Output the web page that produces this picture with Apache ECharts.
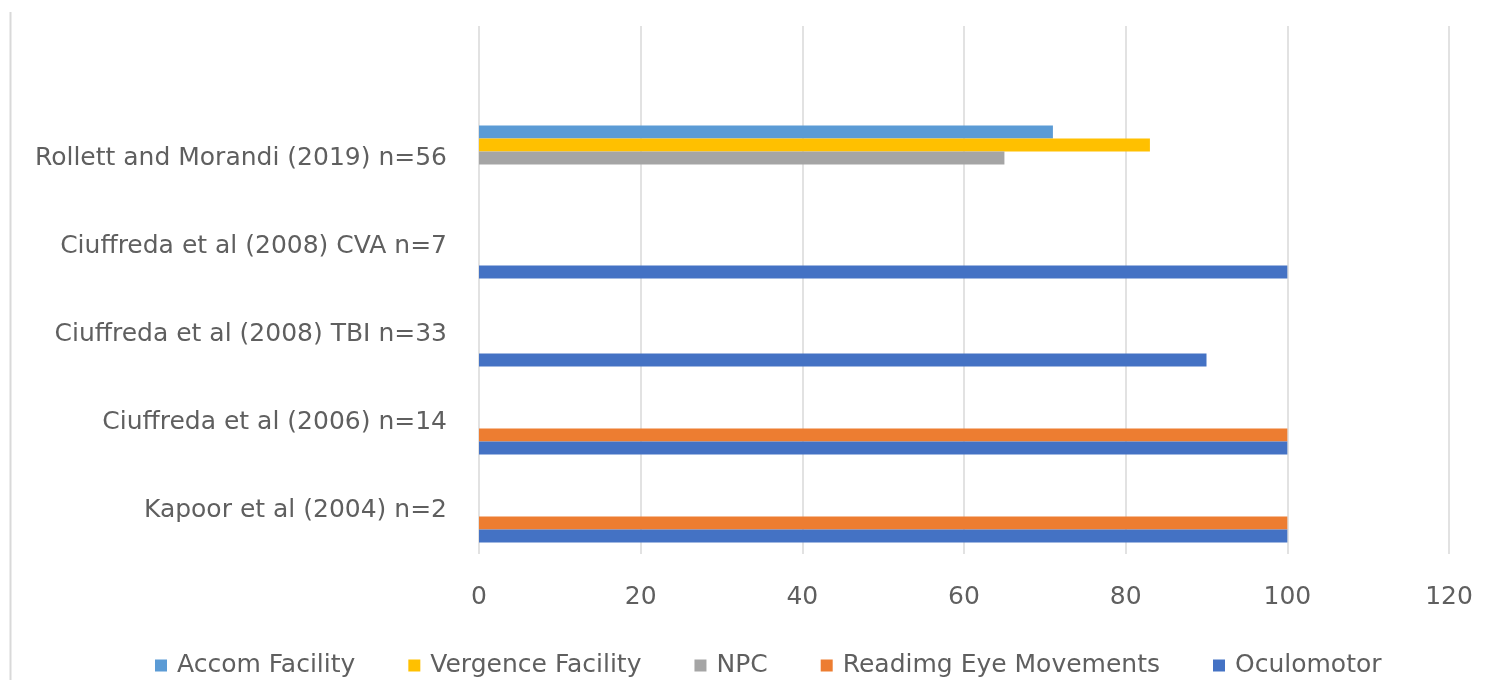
<!DOCTYPE html>
<html>
<head>
<meta charset="utf-8">
<script src="https://cdn.jsdelivr.net/npm/echarts@6/dist/echarts.min.js"></script>
<style>
  html, body { margin: 0; padding: 0; background: #ffffff; }
  #chart { width: 1492px; height: 680px; }
</style>
</head>
<body>
<div id="chart"></div>
<script>
// Studies, bottom to top; the top slot is left empty
const studies = [
  'Kapoor et al (2004) n=2',
  'Ciuffreda et al (2006) n=14',
  'Ciuffreda et al (2008) TBI n=33',
  'Ciuffreda et al (2008) CVA n=7',
  'Rollett and Morandi (2019) n=56',
  ''
];

// Percentage per study for each outcome measure (null = not reported)
const accomFac        = [null, null, null, null, 71, null];
const vergenceFac     = [null, null, null, null, 83, null];
const npc             = [null, null, null, null, 65, null];
const readingEyeMoves = [100, 100, null, null, null, null];
const oculomotor      = [100, 100, 90, 100, null, null];

const xTicks = { min: 0, max: 120, interval: 20 };

// Listed top-to-bottom within each study group
const seriesDefs = [
  { name: 'Accom Facility', data: accomFac, color: '#5B9BD5' },
  { name: 'Vergence Facility', data: vergenceFac, color: '#FFC000' },
  { name: 'NPC', data: npc, color: '#A5A5A5' },
  { name: 'Readimg Eye Movements', data: readingEyeMoves, color: '#ED7D31' },
  { name: 'Oculomotor', data: oculomotor, color: '#4472C4' }
];

const FONT = 'DejaVu Sans';
const TEXT = '#5f5f5f';
const chart = echarts.init(document.getElementById('chart'));
chart.setOption({
  animation: false,
  backgroundColor: '#ffffff',
  textStyle: { fontFamily: FONT },
  grid: { left: 479, right: 43, top: 26, height: 528, containLabel: false },
  xAxis: {
    type: 'value',
    min: xTicks.min, max: xTicks.max, interval: xTicks.interval,
    axisLine: { show: false },
    axisTick: { show: false },
    axisLabel: { color: TEXT, fontSize: 25, fontFamily: FONT, margin: 31 },
    splitLine: { lineStyle: { color: '#D9D9D9', width: 1.5 } }
  },
  yAxis: {
    type: 'category',
    data: studies,
    axisLine: { show: false },
    axisTick: { show: false },
    axisLabel: { color: TEXT, fontSize: 25, fontFamily: FONT, margin: 32 }
  },
  legend: {
    data: seriesDefs.map(s => s.name),
    top: 648,
    left: 150,
    itemWidth: 12, itemHeight: 12,
    itemGap: 53,
    icon: 'rect',
    textStyle: { color: TEXT, fontSize: 25, fontFamily: FONT, padding: [0, 0, 0, 5] }
  },
  graphic: [{
    type: 'line',
    shape: { x1: 10.5, y1: 12, x2: 10.5, y2: 680 },
    style: { stroke: '#D9D9D9', lineWidth: 2 }
  }],
  series: seriesDefs.map(s => ({
    name: s.name,
    type: 'bar',
    data: s.data,
    barWidth: 13,
    barGap: '0%',
    itemStyle: { color: s.color }
  }))
});
</script>
</body>
</html>
